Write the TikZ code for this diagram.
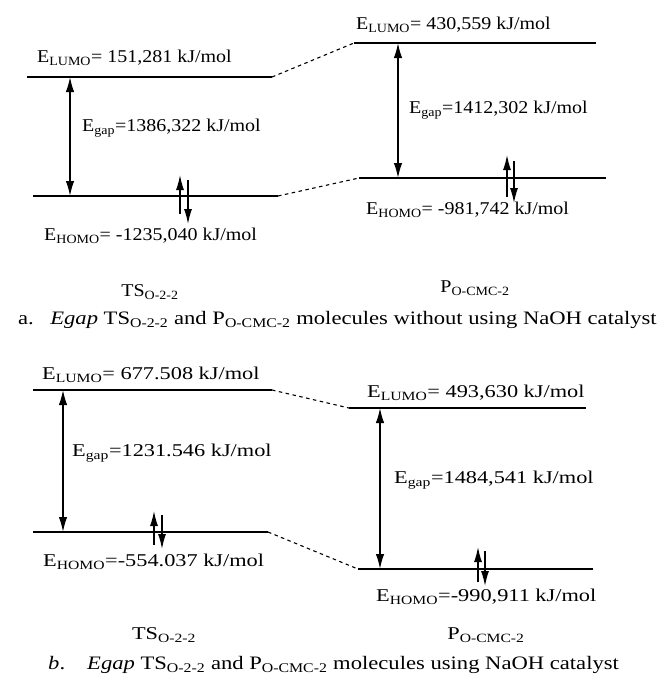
\documentclass[tikz,border=0pt]{standalone}
\usepackage{fontspec}
\setmainfont{Liberation Serif}
\usetikzlibrary{arrows.meta}
\newcommand{\wa}[1]{\scalebox{1.11}[1]{#1}}
\newcommand{\wb}[1]{\scalebox{1.24}[1]{#1}}
\newcommand{\wc}[1]{\scalebox{1.19}[1]{#1}}
\begin{document}
\begin{tikzpicture}[x=1pt,y=-1pt,
  level/.style={line width=1.6pt},
  link/.style={line width=1.1pt,dash pattern=on 3.5pt off 3.5pt},
  gaparrow/.style={line width=1.5pt,{Latex[length=15pt,width=8.5pt]}-{Latex[length=15pt,width=8.5pt]}},
  spinup/.style={line width=1.3pt,-{Latex[length=15pt,width=8pt]}},
  lbl/.style={inner sep=0pt,anchor=west,font=\fontsize{18}{21}\selectfont},
  mol/.style={inner sep=0pt,font=\fontsize{18}{21}\selectfont},
  captext/.style={inner sep=0pt,anchor=west,font=\fontsize{19}{22}\selectfont}]
\useasboundingbox (0,0) rectangle (662,675);
% ---------- panel a ----------
\coordinate (aL1) at (27,77);  \coordinate (aL2) at (272,77);
\coordinate (aH1) at (33,196); \coordinate (aH2) at (278,196);
\coordinate (bL1) at (354,43); \coordinate (bL2) at (596,43);
\coordinate (bH1) at (359,178);\coordinate (bH2) at (606,178);
\draw[level] (aL1) -- (aL2);
\draw[level] (aH1) -- (aH2);
\draw[level] (bL1) -- (bL2);
\draw[level] (bH1) -- (bH2);
\draw[link] (aL2) -- (bL1);
\draw[link] (aH2) -- (bH1);
\coordinate (ag1) at (70,77); \coordinate (ag2) at (70,196);
\draw[gaparrow] (ag1) -- (ag2);
\coordinate (bg1) at (398,43); \coordinate (bg2) at (398,178);
\draw[gaparrow] (bg1) -- (bg2);
\coordinate (as1) at (180,214); \coordinate (as2) at (180,175);
\coordinate (as3) at (188,180); \coordinate (as4) at (188,224);
\draw[spinup] (as1) -- (as2);
\draw[spinup] (as3) -- (as4);
\coordinate (bs1) at (507,197); \coordinate (bs2) at (507,155);
\coordinate (bs3) at (514,161); \coordinate (bs4) at (514,203);
\draw[spinup] (bs1) -- (bs2);
\draw[spinup] (bs3) -- (bs4);
\node[lbl] (aLt) at (37,58) {\wa{E\textsubscript{LUMO}= 151,281 kJ/mol}};
\node[lbl] (aGt) at (82,128) {\wa{E\textsubscript{gap}=1386,322 kJ/mol}};
\node[lbl] (aHt) at (44,236) {\wa{E\textsubscript{HOMO}= -1235,040 kJ/mol}};
\node[lbl] (bLt) at (356,25) {\wa{E\textsubscript{LUMO}= 430,559 kJ/mol}};
\node[lbl] (bGt) at (409,110) {\wa{E\textsubscript{gap}=1412,302 kJ/mol}};
\node[lbl] (bHt) at (366,210) {\wa{E\textsubscript{HOMO}= -981,742 kJ/mol}};
\node[mol] (aTS) at (150,292) {\wa{TS\textsubscript{O-2-2}}};
\node[mol] (aP) at (475,288) {\wa{P\textsubscript{O-CMC-2}}};
\node[captext] (capa) at (18,320) {\wc{\makebox[27pt][l]{a.}\textit{Egap} TS\textsubscript{O-2-2} and P\textsubscript{O-CMC-2} molecules without using NaOH catalyst}};
% ---------- panel b ----------
\coordinate (cL1) at (33,390);  \coordinate (cL2) at (272,390);
\coordinate (cH1) at (33,532);  \coordinate (cH2) at (268,532);
\coordinate (dL1) at (349,408); \coordinate (dL2) at (586,408);
\coordinate (dH1) at (358,569); \coordinate (dH2) at (593,569);
\draw[level] (cL1) -- (cL2);
\draw[level] (cH1) -- (cH2);
\draw[level] (dL1) -- (dL2);
\draw[level] (dH1) -- (dH2);
\draw[link] (cL2) -- (dL1);
\draw[link] (cH2) -- (dH1);
\coordinate (cg1) at (63,390); \coordinate (cg2) at (63,532);
\draw[gaparrow] (cg1) -- (cg2);
\coordinate (dg1) at (380,408); \coordinate (dg2) at (380,569);
\draw[gaparrow] (dg1) -- (dg2);
\coordinate (cs1) at (154,545); \coordinate (cs2) at (154,511);
\coordinate (cs3) at (162,515); \coordinate (cs4) at (162,549);
\draw[spinup] (cs1) -- (cs2);
\draw[spinup] (cs3) -- (cs4);
\coordinate (ds1) at (478,582); \coordinate (ds2) at (478,547);
\coordinate (ds3) at (485,551); \coordinate (ds4) at (485,586);
\draw[spinup] (ds1) -- (ds2);
\draw[spinup] (ds3) -- (ds4);
\node[lbl] (cLt) at (42,375) {\wb{E\textsubscript{LUMO}= 677.508 kJ/mol}};
\node[lbl] (cGt) at (72,453) {\wb{E\textsubscript{gap}=1231.546 kJ/mol}};
\node[lbl] (cHt) at (43,562) {\wb{E\textsubscript{HOMO}=-554.037 kJ/mol}};
\node[lbl] (dLt) at (367,393) {\wb{E\textsubscript{LUMO}= 493,630 kJ/mol}};
\node[lbl] (dGt) at (394,480) {\wb{E\textsubscript{gap}=1484,541 kJ/mol}};
\node[lbl] (dHt) at (376,597) {\wb{E\textsubscript{HOMO}=-990,911 kJ/mol}};
\node[mol] (cTS) at (164,635) {\wb{TS\textsubscript{O-2-2}}};
\node[mol] (cP) at (486,635) {\wb{P\textsubscript{O-CMC-2}}};
\node[captext] (capb) at (48,665) {\wc{\makebox[32.8pt][l]{\textit{b}.}\textit{Egap} TS\textsubscript{O-2-2} and P\textsubscript{O-CMC-2} molecules using NaOH catalyst}};
\end{tikzpicture}
\end{document}
